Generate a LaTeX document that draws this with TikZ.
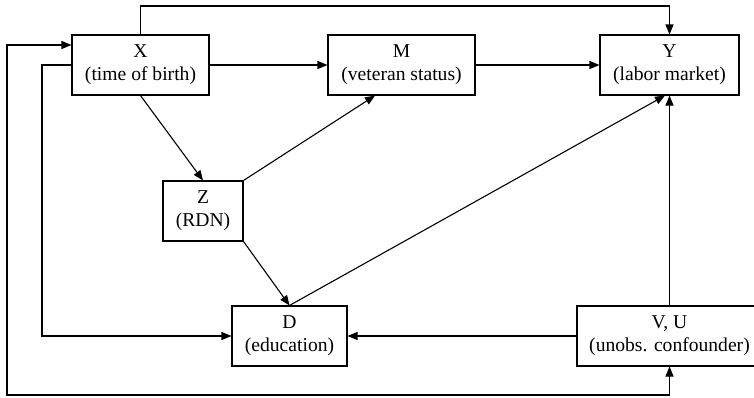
\documentclass[tikz,border=0pt]{standalone}
\usepackage{fontspec}
\setmainfont{Liberation Serif}
\usetikzlibrary{arrows.meta}
\begin{document}
\begin{tikzpicture}[x=1pt,y=-1pt,
  box/.style={draw, line width=1.1pt, inner sep=0pt, minimum height=60pt, align=center,
    font=\fontsize{19.6}{23}\selectfont, fill=white},
  arr/.style={line width=1.1pt, -{Triangle[length=10pt,width=8pt]}},
  arrboth/.style={line width=1.1pt, {Triangle[length=10pt,width=8pt]}-{Triangle[length=10pt,width=8pt]}}]
\useasboundingbox (0,0) rectangle (754,397);
\clip (0,0) rectangle (754,397);
\fill[white] (0,0) rectangle (754,397);
\node[box, minimum width=137pt] (X) at (140.5,65) {X\\(time of birth)};
\node[box, minimum width=147pt] (M) at (401.5,65) {M\\(veteran status)};
\node[box, minimum width=139pt] (Y) at (669.5,65) {Y\\(labor market)};
\node[box, minimum width=80pt] (Z) at (203,211) {Z\\(RDN)};
\node[box, minimum width=115pt] (D) at (289.5,336) {D\\(education)};
\node[box, minimum width=185pt] (VU) at (669.5,336) {V, U\\(unobs. confounder)};
\coordinate (T) at (405,6);
\coordinate (L1) at (42,200);
\coordinate (B) at (7,395);
\draw[arr] (X.north) |- (T) -| (Y.north);
\draw[arr] (X.east) -- (M.west);
\draw[arr] (M.east) -- (Y.west);
\draw[arr] (X.south) -- (Z.north);
\draw[arr] (Z.north east) -- ([xshift=-26.5pt]M.south);
\draw[arr] (Z.south east) -- (D.north);
\draw[arr] (D.north) -- ([xshift=-4.5pt]Y.south);
\draw[arr] (VU.north) -- (Y.south);
\draw[arr] (VU.west) -- (D.east);
\draw[arr] (X.west) -| (L1) |- (D.west);
\draw[arrboth] ([yshift=20pt]X.west) -| (B) -| (VU.south);
\end{tikzpicture}
\end{document}
